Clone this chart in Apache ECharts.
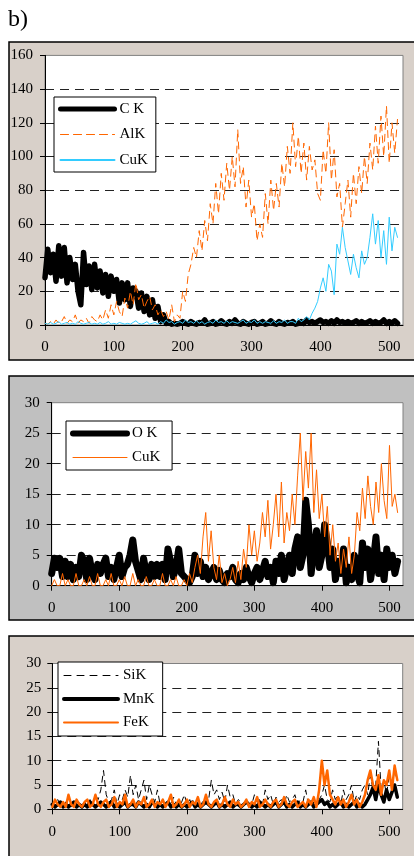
<!DOCTYPE html>
<html>
<head>
<meta charset="utf-8">
<script src="https://cdn.jsdelivr.net/npm/echarts@6/dist/echarts.min.js"></script>
<style>
  html, body { margin: 0; padding: 0; background: #fff; }
  #main { width: 414px; height: 856px; }
</style>
</head>
<body>
<div id="main"></div>
<script>
// channel numbers, one reading every 4 channels (0 .. 512)
var channel = [];
for (var c = 0; c <= 512; c += 4) channel.push(c);

var xTicks = [0, 100, 200, 300, 400, 500];

// panel 1: C K, AlK, CuK
var ck = [
  28, 45, 31, 42, 26, 47, 29, 46, 25, 40,
  27, 36, 20, 12, 43, 24, 35, 21, 36, 22,
  32, 19, 30, 17, 29, 20, 27, 13, 25, 15,
  25, 11, 22, 20, 10, 19, 8, 17, 6, 15,
  4, 11, 2, 6, 1, 2, 0.5, 1, 0.5, 1,
  2, 1, 0.5, 2, 1, 0.5, 1.5, 1, 3, 0.5,
  1, 2, 0.5, 1, 2.5, 1, 0.5, 2, 1, 3,
  1, 0.5, 2, 1, 0.5, 1.5, 2, 0.5, 1, 2,
  0.5, 1, 2.5, 1, 0.5, 2, 1, 0.5, 1.5, 1,
  2, 0.5, 1, 2, 1, 3, 1.5, 2, 1, 2,
  3, 1.5, 2, 1, 2.5, 1, 3, 1.5, 2, 1,
  2, 1, 1.5, 2.5, 1, 2, 1, 1.5, 2.5, 1,
  2, 1, 1.5, 3, 1, 2, 1, 2.5, 1
];
var alk = [
  1, 0.5, 2, 0.5, 3, 1, 2, 5, 1, 3,
  2, 6, 1, 3, 2, 4, 1, 5, 3, 2,
  6, 3, 9, 4, 12, 6, 14, 8, 5, 16,
  10, 20, 12, 25, 15, 18, 10, 14, 17, 9,
  12, 6, 9, 5, 8, 3, 12, 2, 6, 4,
  20, 14, 30, 36, 46, 40, 56, 44, 62, 50,
  72, 60, 84, 66, 90, 74, 96, 80, 100, 82,
  116, 84, 94, 70, 86, 64, 72, 50, 60, 52,
  78, 60, 86, 68, 84, 70, 96, 82, 106, 90,
  120, 94, 112, 90, 108, 86, 106, 92, 98, 78,
  74, 104, 90, 120, 86, 104, 76, 84, 58, 72,
  86, 64, 90, 72, 94, 78, 100, 84, 108, 92,
  118, 96, 124, 100, 130, 96, 120, 102, 122
];
var cuk1 = [
  1, 0.5, 1.5, 0.5, 1, 2, 0.5, 1, 1.5, 0.5,
  1, 0.5, 2, 1, 0.5, 1, 1.5, 0.5, 1, 0.5,
  1.5, 0.5, 1, 2, 0.5, 1, 0.5, 1.5, 1, 0.5,
  1, 0.5, 1.5, 2.5, 1, 0.5, 1, 2, 0.5, 1,
  1.5, 0.5, 2, 1, 3, 1.5, 2, 0.5, 1.5, 2,
  1, 3, 1.5, 2, 1, 2.5, 1, 2, 0.5, 1.5,
  2, 1, 3, 1.5, 2, 1, 2.5, 1, 2, 1.5,
  1, 2, 3, 1, 2, 1.5, 3, 1, 2, 1,
  2, 1.5, 1, 2.5, 1, 2, 1.5, 3, 1, 2,
  2, 1, 4, 2, 3, 5, 3, 7, 10, 14,
  22, 28, 20, 36, 32, 18, 48, 42, 58, 46,
  38, 30, 42, 34, 28, 44, 36, 40, 52, 66,
  48, 62, 40, 56, 36, 64, 44, 58, 52
];

// panel 2: O K, CuK
var ok = [
  2, 4.5, 3, 4.5, 1.5, 4, 1.5, 3.5, 1, 3,
  1.5, 5, 4, 1, 4.5, 2, 1, 3.5, 2, 3.5,
  4.5, 1.5, 3, 1, 3, 5, 1.5, 3, 3.5, 5,
  7.5, 4, 2.5, 1, 4.5, 2, 1, 3.5, 1.5, 3.5,
  1.5, 3.5, 1, 6, 4, 1.5, 3, 6, 2, 1.5,
  1, 0.5, 1.5, 5, 2, 4, 1.5, 3, 1, 2,
  3, 1, 2.5, 1, 0.5, 2, 1.5, 3, 1, 0.5,
  2, 1, 3, 1.5, 0.5, 2, 3, 1, 2.5, 4,
  1.5, 3, 0.5, 4, 2, 5, 1, 3, 5, 2,
  6, 8, 3, 5, 14, 10, 2, 6, 9, 3,
  5, 10, 7, 3, 6, 1, 4, 2, 6, 0.5,
  3, 1, 5, 2, 0.5, 7, 3, 6, 1, 4,
  8, 2, 5, 1, 6, 3, 5, 2, 4
];
var cuk2 = [
  0, 1, 0, 0, 2, 0, 1, 0, 0, 2,
  0, 0, 1, 0, 1.5, 0, 0, 2, 0, 0,
  1, 0, 2, 0, 0, 1, 0, 1.5, 0, 0,
  2, 0, 1, 0, 0, 1.5, 0, 0, 1, 0,
  0, 2, 0, 0, 1, 0, 1.5, 0, 0, 1,
  0, 2, 0.5, 3, 5, 2, 8, 12, 4, 9,
  3, 1, 5, 0.5, 2, 0, 1, 3, 0.5, 4,
  1, 6, 3, 10, 5, 9, 4, 7, 12, 8,
  14, 6, 10, 15, 8, 17, 7, 12, 9, 15,
  10, 18, 25, 14, 22, 16, 25, 12, 19, 11,
  15, 8, 13, 5, 10, 4, 7, 2, 6, 3,
  8, 2, 5, 12, 9, 16, 11, 18, 13, 10,
  17, 12, 20, 14, 11, 23, 13, 15, 12
];

// panel 3: SiK, MnK, FeK
var sik = [
  1, 0.5, 2, 1, 0.5, 1.5, 1, 0.5, 2, 1,
  0.5, 1, 1.5, 0.5, 2, 1, 3, 2, 4, 8,
  3, 1.5, 2, 4, 1, 3, 2, 4, 2.5, 7,
  3, 5, 2, 4, 6, 2, 5, 3, 1.5, 4,
  1, 2, 0.5, 1.5, 1, 2.5, 1, 0.5, 1.5, 3,
  1, 2, 0.5, 1, 1.5, 0.5, 2, 1, 2, 6,
  3, 4, 2, 3.5, 1.5, 5, 2.5, 3, 1, 2,
  1.5, 1, 2, 0.5, 1, 3, 1.5, 2, 1, 4,
  2, 3, 1, 2.5, 1.5, 2, 1, 3, 1.5, 2,
  3, 1, 2, 1.5, 4, 1, 0.5, 1.5, 1, 2,
  3, 5, 2, 1.5, 4, 2, 3, 1, 4, 2,
  3, 5, 1.5, 3, 2, 4, 5, 3, 7, 4,
  5, 14, 4, 6, 3, 7, 5, 8, 6
];
var mnk = [
  1, 0.5, 1, 1.5, 0.5, 1, 0.5, 1, 1.5, 0.5,
  1, 0.5, 1, 0.5, 1.5, 1, 0.5, 1, 1.5, 1,
  0.5, 1, 1.5, 0.5, 1, 0.5, 1, 1.5, 0.5, 1,
  1, 0.5, 1.5, 1, 0.5, 1, 0.5, 1.5, 1, 0.5,
  1, 0.5, 1, 1.5, 0.5, 1, 0.5, 1, 0.5, 1,
  0.5, 1, 1.5, 0.5, 1, 0.5, 1, 1.5, 1, 0.5,
  1, 1.5, 0.5, 1, 0.5, 1, 1.5, 0.5, 1, 1,
  0.5, 1, 1.5, 1, 0.5, 1, 0.5, 1.5, 1, 0.5,
  1, 0.5, 1, 1.5, 0.5, 1, 1.5, 0.5, 1, 0.5,
  1, 1.5, 0.5, 1, 0.5, 1, 1.5, 0.5, 1, 1.5,
  2, 1, 1.5, 0.5, 1, 0.5, 1, 1.5, 0.5, 1,
  0.5, 1, 1.5, 0.5, 1, 0.5, 1, 2, 3, 4.5,
  2, 5, 3, 1.5, 4, 2, 3.5, 5, 2.5
];
var fek = [
  0.5, 2, 1, 0.5, 1.5, 0.5, 3, 1, 0.5, 2,
  1, 0.5, 1.5, 2, 0.5, 1, 3, 1, 0.5, 1.5,
  2, 0.5, 1, 2.5, 0.5, 1.5, 1, 3, 0.5, 1,
  2, 0.5, 1.5, 1, 2.5, 0.5, 1, 2, 0.5, 1.5,
  1, 2, 0.5, 1.5, 3, 0.5, 1, 2, 0.5, 1,
  2, 0.5, 1.5, 1, 2.5, 0.5, 1, 3, 1, 0.5,
  1.5, 2, 0.5, 1, 2.5, 1, 0.5, 2, 1, 1.5,
  0.5, 1, 2, 0.5, 1.5, 1, 2.5, 0.5, 1, 2,
  1, 0.5, 1.5, 2, 0.5, 1, 2.5, 1, 0.5, 1.5,
  2, 0.5, 1, 1.5, 0.5, 2, 1, 2.5, 0.5, 4,
  10, 5, 8, 3, 2, 1, 2.5, 1, 2, 0.5,
  1.5, 3, 1, 2, 0.5, 1.5, 3, 6, 8, 5,
  4, 7, 3, 6, 5, 8, 4, 9, 6
];

var serif = 'Liberation Serif';

function pairs(arr) {
  return arr.map(function (v, i) { return [channel[i], v]; });
}

function xAxisFor(idx) {
  return {
    type: 'value', gridIndex: idx, min: 0, max: 520, interval: 100,
    axisLine: { show: true, lineStyle: { color: '#000', width: 1 } },
    axisTick: { show: true, length: 5, lineStyle: { color: '#000' } },
    axisLabel: {
      margin: 15, color: '#000', fontFamily: serif, fontSize: 15,
      showMaxLabel: false,
      formatter: function (v) { return xTicks.indexOf(v) >= 0 ? String(v) : ''; }
    },
    splitLine: { show: false }
  };
}

function yAxisFor(idx, max, interval, margin) {
  return {
    type: 'value', gridIndex: idx, min: 0, max: max, interval: interval,
    axisLine: { show: true, lineStyle: { color: '#000', width: 1 } },
    axisTick: { show: true, length: 5, lineStyle: { color: '#000' } },
    axisLabel: { margin: margin, color: '#000', fontFamily: serif, fontSize: 15 },
    splitLine: {
      show: true, showMinLine: false, showMaxLine: false,
      lineStyle: { color: '#222', width: 1, type: [9, 6] }
    }
  };
}

// legend entries: name, line width and dash as drawn in the key
function key(name, width, type) {
  return { name: name, lineStyle: { width: width, type: type || 'solid', cap: 'round' } };
}

function legendFor(items, left, top, gap, pad) {
  return {
    data: items, orient: 'vertical', left: left, top: top,
    itemWidth: 54, itemHeight: 14, itemGap: gap, padding: pad,
    backgroundColor: '#fff', borderColor: '#000', borderWidth: 1, borderRadius: 0,
    selectedMode: false,
    itemStyle: { opacity: 0 },
    textStyle: { fontFamily: serif, fontSize: 15, color: '#000' }
  };
}

function line(name, data, xi, color, width, type) {
  return {
    name: name, type: 'line', xAxisIndex: xi, yAxisIndex: xi,
    data: pairs(data), symbol: 'none', showSymbol: false,
    lineStyle: { color: color, width: width, type: type || 'solid', cap: 'round', join: 'round' },
    itemStyle: { color: color }
  };
}

var chart = echarts.init(document.getElementById('main'));
var option = {
  animation: false,
  backgroundColor: '#fff',
  graphic: [
    { type: 'text', left: 8, top: 8, style: { text: 'b)', font: '24px "Liberation Serif"', fill: '#000' } },
    { type: 'rect', shape: { x: 9, y: 42, width: 420, height: 318 }, style: { fill: '#d8d0c9', stroke: '#000', lineWidth: 1.5 }, z: -10 },
    { type: 'rect', shape: { x: 9, y: 376, width: 420, height: 244 }, style: { fill: '#c0c0c0', stroke: '#000', lineWidth: 1.5 }, z: -10 },
    { type: 'rect', shape: { x: 9, y: 636, width: 420, height: 240 }, style: { fill: '#d8d0c9', stroke: '#000', lineWidth: 1.5 }, z: -10 }
  ],
  grid: [
    { left: 45, top: 55.4, right: 11, height: 269.6, show: true, backgroundColor: '#fff', borderColor: '#808080', borderWidth: 1 },
    { left: 51.7, top: 402.7, right: 11, height: 183, show: true, backgroundColor: '#fff', borderColor: '#808080', borderWidth: 1 },
    { left: 52.3, top: 663.5, right: 11.3, height: 145.8, show: true, backgroundColor: '#fff', borderColor: '#808080', borderWidth: 1 }
  ],
  xAxis: [xAxisFor(0), xAxisFor(1), xAxisFor(2)],
  yAxis: [yAxisFor(0, 160, 20, 12), yAxisFor(1, 30, 5, 12), yAxisFor(2, 30, 5, 11)],
  legend: [
    legendFor([key('C K', 5), key('AlK', 1.2, [8, 5]), key('CuK', 2)], 54, 97, 10.5, [4.5, 8, 4.5, 4]),
    legendFor([key('O K', 6), key('CuK ', 1)], 66, 421, 9, [5, 8, 5, 4]),
    legendFor([key('SiK', 1, [7, 6]), key('MnK', 4), key('FeK', 2)], 58, 662, 8.5, [6, 8, 6, 4])
  ],
  series: [
    line('C K', ck, 0, '#000', 5.5),
    line('AlK', alk, 0, '#ff6600', 1, [7, 5]),
    line('CuK', cuk1, 0, '#33ccff', 1),
    line('O K', ok, 1, '#000', 7),
    line('CuK ', cuk2, 1, '#ff6600', 1),
    line('SiK', sik, 2, '#000', 1, [6, 5]),
    line('MnK', mnk, 2, '#000', 3.5),
    line('FeK', fek, 2, '#ff6600', 2.5)
  ]
};
option && chart.setOption(option);
</script>
</body>
</html>
